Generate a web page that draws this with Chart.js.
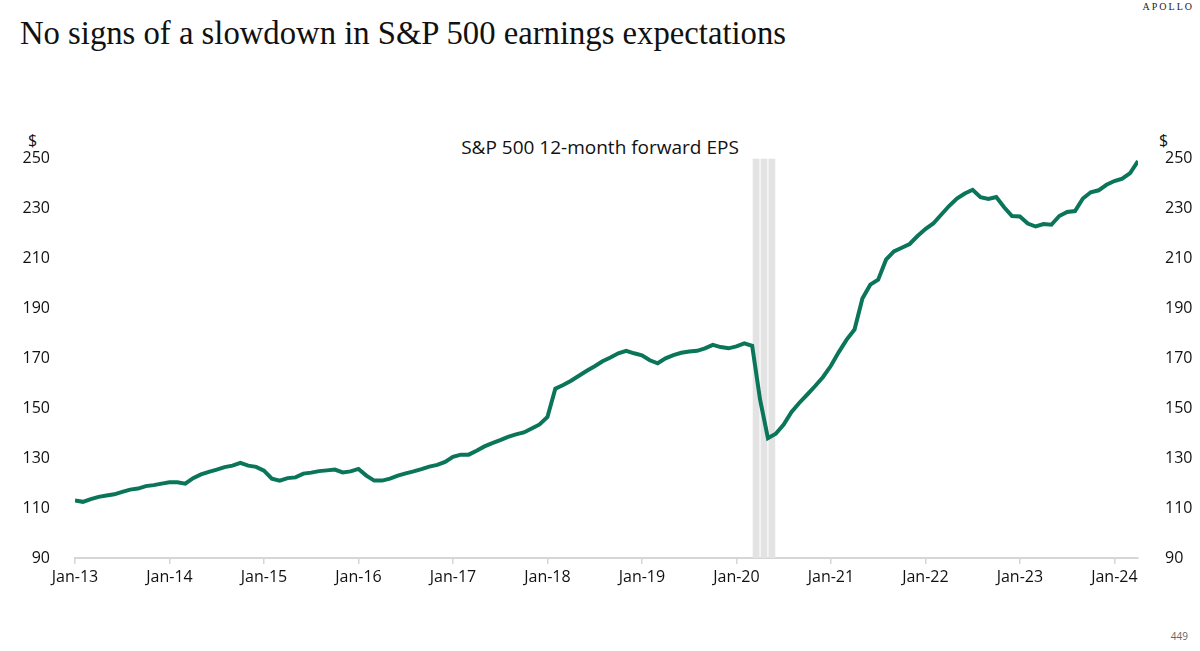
<!DOCTYPE html>
<html>
<head>
<meta charset="utf-8">
<script src="https://cdn.jsdelivr.net/npm/chart.js@4.4.1/dist/chart.umd.min.js"></script>
<style>
  html, body { margin: 0; padding: 0; background: #fff; }
  body { width: 1200px; height: 651px; position: relative; overflow: hidden; font-family: "Open Sans", "Noto Sans", sans-serif; color: #1a1a1a; }
  .title { position: absolute; left: 20px; top: 13px; font: 32.7px/40px "Liberation Serif", serif; color: #111; }
  .brand { position: absolute; right: 6px; top: 0px; font: 10px/14px "Liberation Serif", serif; letter-spacing: 2px; color: #222; }
  .subtitle { position: absolute; left: 0; width: 1200px; top: 134px; text-align: center; font-size: 19px; line-height: 26px; color: #111; }
  .unit { position: absolute; top: 129px; font-size: 16px; line-height: 22px; color: #111; }
  .page { position: absolute; right: 12px; top: 629px; font-size: 10px; color: #666; }
  #wrap { position: absolute; left: 0; top: 130px; width: 1200px; height: 510px; }
</style>
</head>
<body>
<div class="title">No signs of a slowdown in S&amp;P 500 earnings expectations</div>
<div class="brand">APOLLO</div>
<div class="subtitle">S&amp;P 500 12-month forward EPS</div>
<div class="unit" style="left:28px">$</div>
<div class="unit" style="left:1159px">$</div>
<div class="page">449</div>
<div id="wrap"><canvas id="chart"></canvas></div>
<script>
// monthly readings, Jan-13 .. Apr-24
const eps2013 = [113.0, 112.5, 113.6, 114.5, 115.0, 115.5, 116.5, 117.4, 117.8, 118.8, 119.2, 119.8];
const eps2014 = [120.3, 120.3, 119.8, 122.0, 123.5, 124.5, 125.4, 126.4, 127.0, 128.1, 127.0, 126.5];
const eps2015 = [125.0, 121.8, 121.0, 122.0, 122.3, 123.8, 124.2, 124.8, 125.1, 125.4, 124.3, 124.7];
const eps2016 = [125.7, 123.0, 121.0, 121.0, 121.8, 123.0, 123.9, 124.7, 125.6, 126.6, 127.3, 128.5];
const eps2017 = [130.5, 131.4, 131.4, 133.0, 134.7, 136.0, 137.2, 138.5, 139.5, 140.3, 141.9, 143.5];
const eps2018 = [146.5, 157.8, 159.3, 161.0, 163.0, 165.0, 166.8, 168.8, 170.3, 172.0, 173.0, 172.0];
const eps2019 = [171.2, 169.2, 168.0, 170.0, 171.3, 172.2, 172.7, 173.0, 174.0, 175.4, 174.5, 174.0];
const eps2020 = [174.8, 176.0, 175.0, 153.5, 138.0, 139.8, 143.5, 148.5, 152.2, 155.5, 158.9, 162.5];
const eps2021 = [167.0, 172.5, 177.5, 181.5, 194.0, 199.5, 201.5, 209.5, 212.8, 214.3, 215.8, 219.0];
const eps2022 = [221.8, 224.0, 227.5, 231.0, 234.0, 236.0, 237.5, 234.5, 233.8, 234.6, 230.5, 227.0];
const eps2023 = [226.8, 224.0, 222.8, 223.8, 223.5, 227.0, 228.6, 229.0, 234.0, 236.5, 237.3, 239.5];
const eps2024 = [241.0, 242.0, 244.2, 249.0];

const tickLabels = ["Jan-13", "Jan-14", "Jan-15", "Jan-16", "Jan-17", "Jan-18",
                    "Jan-19", "Jan-20", "Jan-21", "Jan-22", "Jan-23", "Jan-24"];
const recessionMonths = ["Mar-20", "Apr-20", "May-20"];

const eps = [].concat(eps2013, eps2014, eps2015, eps2016, eps2017, eps2018,
                      eps2019, eps2020, eps2021, eps2022, eps2023, eps2024);

// month names for indexing
const MON = ["Jan","Feb","Mar","Apr","May","Jun","Jul","Aug","Sep","Oct","Nov","Dec"];
const months = eps.map((_, i) => `${MON[i % 12]}-${13 + Math.floor(i / 12)}`);

const Y_MIN = 90, Y_MAX = 250;
const GREEN = "#0a7559";
const tickFont = { family: "'Open Sans', 'Noto Sans', sans-serif", size: 16 };

const lineData = eps.map((v, i) => ({ x: i, y: v }));
const bandData = recessionMonths.map((m) => ({ x: months.indexOf(m) + 0.5, y: [Y_MIN, Y_MAX] }));

new Chart(document.getElementById("chart"), {
  data: {
    datasets: [
      {
        type: "line",
        data: lineData,
        borderColor: GREEN,
        borderWidth: 4,
        pointRadius: 0,
        tension: 0,
        order: 1,
      },
      {
        type: "bar",
        data: bandData,
        backgroundColor: "#e3e3e3",
        borderWidth: 0,
        barPercentage: 0.86,
        categoryPercentage: 1,
        order: 2,
      },
    ],
  },
  options: {
    responsive: true,
    maintainAspectRatio: false,
    animation: false,
    layout: { padding: { top: 9, left: 0, right: 0, bottom: 0 } },
    plugins: { legend: { display: false }, tooltip: { enabled: false }, title: { display: false } },
    scales: {
      x: {
        type: "linear",
        offset: false,
        min: 0,
        max: eps.length - 1,
        afterFit: (s) => { s.height = 82; },
        afterBuildTicks: (s) => { s.ticks = tickLabels.map((_, i) => ({ value: i * 12 })); },
        ticks: {
          autoSkip: false,
          maxRotation: 0,
          padding: 4,
          color: "#111",
          font: tickFont,
          callback: (v) => tickLabels[v / 12],
        },
        grid: { display: true, offset: false, drawOnChartArea: false, drawTicks: true, tickLength: 6, color: "#d6d6d6", lineWidth: 1.5 },
        border: { display: true, color: "#d6d6d6", width: 2 },
      },
      y: {
        position: "left",
        min: Y_MIN,
        max: Y_MAX,
        afterFit: (s) => { s.width = 75; },
        ticks: { stepSize: 20, padding: 17, color: "#111", font: tickFont },
        grid: { display: false },
        border: { display: false },
      },
      y2: {
        position: "right",
        min: Y_MIN,
        max: Y_MAX,
        afterFit: (s) => { s.width = 62; },
        ticks: { stepSize: 20, padding: 19, color: "#111", font: tickFont },
        grid: { display: false },
        border: { display: false },
      },
    },
  },
});
</script>
</body>
</html>
